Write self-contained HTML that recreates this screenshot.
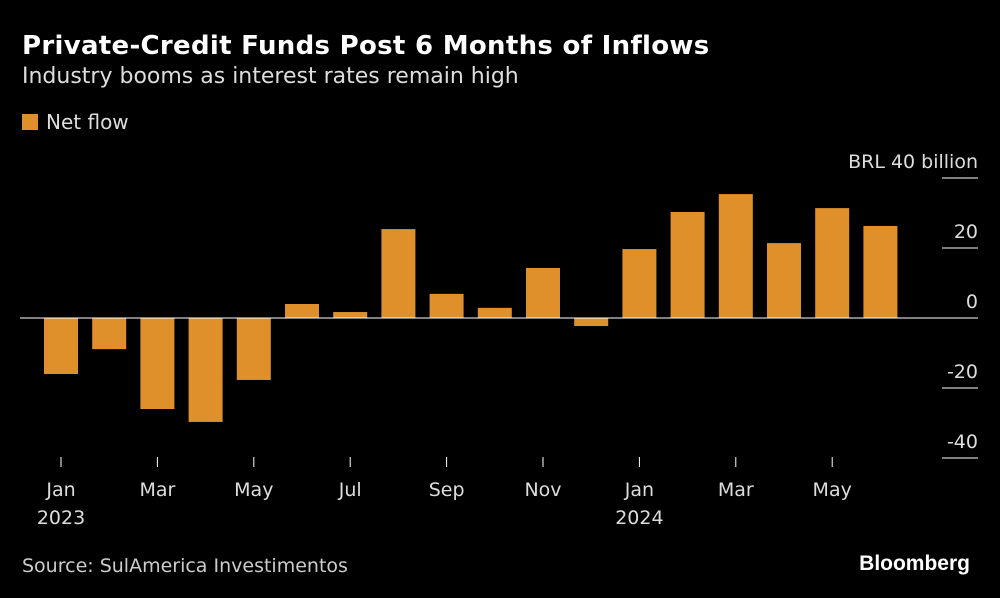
<!DOCTYPE html>
<html><head><meta charset="utf-8"><style>
body{margin:0;background:#000;width:1000px;height:598px;overflow:hidden;font-family:"DejaVu Sans","Liberation Sans",sans-serif;color:#fff}
.t{position:absolute;left:22px;top:31px;font-size:26px;font-weight:bold;letter-spacing:0.3px}
.s{position:absolute;left:22px;top:64px;font-size:22px;color:#ddd}
.l{position:absolute;left:22px;top:110px;font-size:20px;color:#ddd}
.l span{display:inline-block;width:16px;height:16px;background:#e0902a;vertical-align:-1px;margin-right:8px}
.src{position:absolute;left:22px;top:555px;font-size:19px;color:#ccc}
.bb{position:absolute;right:30px;top:552px;font-size:21px;font-weight:bold;font-family:"Liberation Sans",sans-serif}
</style></head><body>
<div class="t">Private-Credit Funds Post 6 Months of Inflows</div>
<div class="s">Industry booms as interest rates remain high</div>
<div class="l"><span></span>Net flow</div>
<svg id="c" width="1000" height="598" style="position:absolute;left:0;top:0"></svg>
<div class="src">Source: SulAmerica Investimentos</div>
<div class="bb">Bloomberg</div>
<script>
const months=["Jan","Feb","Mar","Apr","May","Jun","Jul","Aug","Sep","Oct","Nov","Dec","Jan","Feb","Mar","Apr","May","Jun"];
const years=["2023","","","","","","","","","","","","2024","","","","",""];
const values=[-16,-8.9,-26,-29.7,-17.7,4,1.7,25.4,6.9,2.9,14.3,-2.3,19.7,30.3,35.4,21.4,31.4,26.3];
const yTicks=[40,20,0,-20,-40];
const ns="http://www.w3.org/2000/svg",svg=document.getElementById('c');
const y=v=>318-v*3.5, x=i=>61+i*48.2;
const F='DejaVu Sans, Liberation Sans, sans-serif';
function mk(t,a){const e=document.createElementNS(ns,t);for(const k in a)e.setAttribute(k,a[k]);svg.appendChild(e);return e;}
values.forEach((v,i)=>{const r=mk('rect',{x:x(i)-17,y:Math.min(y(v),y(0)),width:34,height:Math.abs(y(v)-y(0)),fill:'#e0902a'});

});
yTicks.forEach(t=>{
 if(t!==0){const ln=mk('line',{x1:942,x2:978,y1:y(t),y2:y(t),stroke:'#fff','stroke-width':1});
 
 }
 const tx=mk('text',{x:978,y:y(t)-10,'text-anchor':'end',fill:'#ddd','font-size':19,'font-family':F});
 tx.textContent=t===40?'BRL  40 billion':t;
 tx.setAttribute('xml:space','preserve');
 
 
});
const z=mk('line',{x1:20,x2:978,y1:y(0),y2:y(0),stroke:'#fff','stroke-width':1});


months.forEach((m,i)=>{if(i%2)return;
 const tk=mk('line',{x1:x(i),x2:x(i),y1:457,y2:467,stroke:'#fff'});
 
 
 const tx=mk('text',{x:x(i),y:496,'text-anchor':'middle',fill:'#ddd','font-size':19,'font-family':F});
 tx.textContent=m;
 
 
 if(years[i]){const yt=mk('text',{x:x(i),y:524,'text-anchor':'middle',fill:'#ddd','font-size':19,'font-family':F});
 yt.textContent=years[i];
 
 }
});
</script>
</body></html>
